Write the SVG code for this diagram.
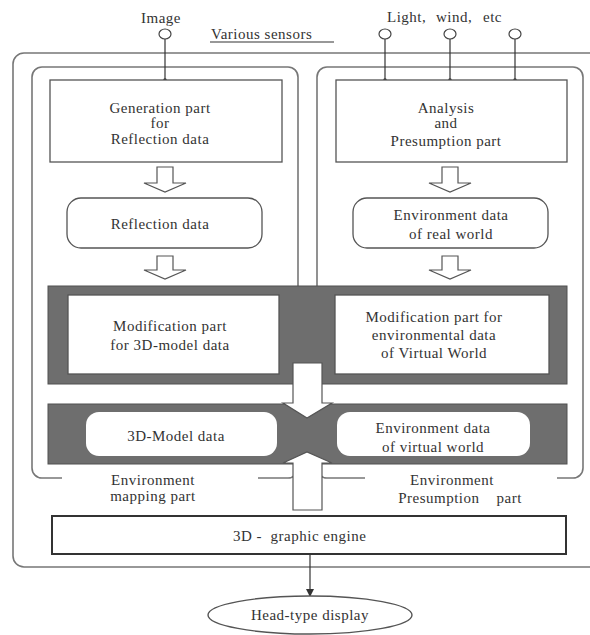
<svg xmlns="http://www.w3.org/2000/svg" width="590" height="635" viewBox="0 0 590 635">
<defs>
<style>
text{font-family:"Liberation Serif","Times New Roman",serif;font-size:15px;fill:#333;letter-spacing:0.5px}
.m{text-anchor:middle}
.frame{fill:none;stroke:#777;stroke-width:1.6}
.box{fill:#fff;stroke:#555;stroke-width:1.3}
.band{fill:#6e6e6e;stroke:#505050;stroke-width:1}
.wbox{fill:#fff;stroke:none}
.harrow{fill:#fff;stroke:#555;stroke-width:1.2}
.line{stroke:#333;stroke-width:1.2;fill:none}
.sensor{fill:#fff;stroke:#444;stroke-width:1.2}
</style>
<marker id="ah" markerWidth="8" markerHeight="8" refX="7" refY="4" orient="auto" markerUnits="userSpaceOnUse">
<path d="M0,0 L8,4 L0,8 Z" fill="#333"/>
</marker>
</defs>

<g id="frames">
<rect id="outer" class="frame" x="13" y="53" width="600" height="514" rx="11"/>
<path id="left-panel" class="frame" d="M62,478 L42,478 A10,10 0 0 1 32,468 L32,77 A10,10 0 0 1 42,67 L288,67 A10,10 0 0 1 298,77 L298,468 A10,10 0 0 1 288,478 L258,478"/>
<path id="right-panel" class="frame" d="M365,478 L327,478 A10,10 0 0 1 317,468 L317,77 A10,10 0 0 1 327,67 L573,67 A10,10 0 0 1 583,77 L583,468 A10,10 0 0 1 573,478 L557,478"/>
</g>

<g id="connectors">
<line class="line" x1="165" y1="39" x2="165" y2="80"/>
<circle cx="165" cy="80" r="1.8" fill="#333"/>
<line class="line" x1="385" y1="39" x2="385" y2="80"/>
<circle cx="385" cy="80" r="1.8" fill="#333"/>
<line class="line" x1="450" y1="39" x2="450" y2="80"/>
<circle cx="450" cy="80" r="1.8" fill="#333"/>
<line class="line" x1="515" y1="39" x2="515" y2="80"/>
<circle cx="515" cy="80" r="1.8" fill="#333"/>
<polygon class="harrow" points="157,167 173,167 173,183 186,183 165,192 144,183 157,183"/>
<polygon class="harrow" points="442,167 458,167 458,183 471,183 450,192 429,183 442,183"/>
<polygon class="harrow" points="157,256 173,256 173,270 186,270 165,279 144,270 157,270"/>
<polygon class="harrow" points="442,256 458,256 458,270 471,270 450,279 429,270 442,270"/>
<line class="line" x1="310" y1="554" x2="310" y2="596" marker-end="url(#ah)"/>
</g>

<g id="sensor-image">
<ellipse class="sensor" cx="165" cy="34" rx="6" ry="5"/>
<text class="m" x="161" y="23">Image</text>
</g>
<g id="sensors-env">
<ellipse class="sensor" cx="385" cy="34" rx="6" ry="5"/>
<ellipse class="sensor" cx="450" cy="34" rx="6" ry="5"/>
<ellipse class="sensor" cx="515" cy="34" rx="6" ry="5"/>
<text x="387" y="22">Light,</text>
<text x="436" y="22">wind,</text>
<text x="483" y="22">etc</text>
</g>
<g id="various-sensors">
<text x="211" y="39">Various sensors</text>
<line x1="210" y1="42" x2="334" y2="42" stroke="#333" stroke-width="1.2"/>
</g>

<g id="generation">
<rect class="box" x="50" y="80" width="232" height="82"/>
<text class="m" x="160" y="113">Generation part</text>
<text class="m" x="160" y="128">for</text>
<text class="m" x="160" y="144">Reflection data</text>
</g>
<g id="analysis">
<rect class="box" x="336" y="80" width="231" height="82"/>
<text class="m" x="446" y="113">Analysis</text>
<text class="m" x="446" y="128">and</text>
<text class="m" x="446" y="146">Presumption part</text>
</g>

<g id="reflection-data">
<rect class="box" x="67" y="198" width="195" height="50" rx="14"/>
<text class="m" x="160" y="229">Reflection data</text>
</g>
<g id="env-real">
<rect class="box" x="353" y="198" width="195" height="50" rx="14"/>
<text class="m" x="451" y="220">Environment data</text>
<text class="m" x="451" y="239">of real world</text>
</g>

<g id="modification-band">
<rect class="band" x="48" y="286" width="519" height="98"/>
</g>
<g id="mod-3d">
<rect class="box" x="68" y="295" width="211" height="79"/>
<text class="m" x="170" y="331">Modification part</text>
<text class="m" x="170" y="350">for 3D-model data</text>
</g>
<g id="mod-env">
<rect class="box" x="335" y="295" width="214" height="79"/>
<text class="m" x="434" y="322">Modification part for</text>
<text class="m" x="434" y="340">environmental data</text>
<text class="m" x="434" y="358">of Virtual World</text>
</g>

<g id="data-band">
<rect class="band" x="48" y="404" width="519" height="60"/>
</g>
<g id="model-data">
<rect class="wbox" x="86" y="412" width="191" height="44" rx="13"/>
<text class="m" x="176" y="441">3D-Model data</text>
</g>
<g id="env-virtual">
<rect class="wbox" x="337" y="412" width="193" height="44" rx="13"/>
<text class="m" x="433" y="433">Environment data</text>
<text class="m" x="433" y="452">of virtual world</text>
</g>

<g id="big-arrows">
<polygon class="harrow" points="293,363 322,363 322,403 332,403 307,418 283,403 293,403"/>
<polygon class="harrow" points="293,510 322,510 322,463 332,463 307,452 283,463 293,463"/>
</g>

<g id="labels">
<text class="m" x="153" y="485">Environment</text>
<text class="m" x="153" y="501">mapping part</text>
<text class="m" x="452" y="485">Environment</text>
<text class="m" x="460" y="503" xml:space="preserve">Presumption    part</text>
</g>

<g id="engine">
<rect x="52" y="516" width="514" height="38" fill="#fff" stroke="#333" stroke-width="2"/>
<text x="233" y="541" xml:space="preserve">3D -  graphic engine</text>
</g>

<g id="display">
<ellipse cx="310" cy="615" rx="102" ry="19" fill="#fff" stroke="#555" stroke-width="1.4"/>
<text class="m" x="310" y="620">Head-type display</text>
</g>
</svg>
